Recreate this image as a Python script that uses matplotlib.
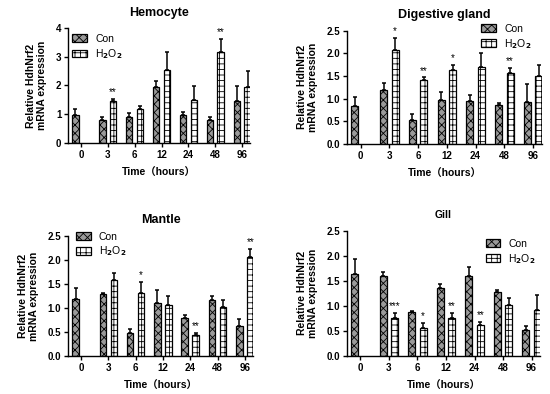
import matplotlib
matplotlib.use("Agg")
import matplotlib.pyplot as plt
import numpy as np

plt.rcParams["font.family"] = ["Liberation Sans", "Noto Sans CJK SC", "DejaVu Sans"]
plt.rcParams["font.weight"] = "bold"
plt.rcParams["hatch.linewidth"] = 0.6

TIMES = ["0", "3", "6", "12", "24", "48", "96"]

# Hemocyte
hem_con = [0.96, 0.78, 0.91, 1.95, 0.96, 0.80, 1.45]
hem_con_err = [0.21, 0.13, 0.14, 0.22, 0.11, 0.09, 0.53]
hem_h2o2 = [np.nan, 1.46, 1.18, 2.54, 1.49, 3.16, 1.95]
hem_h2o2_err = [0, 0.06, 0.10, 0.64, 0.49, 0.46, 0.56]
hem_sig = ["", "**", "", "", "", "**", ""]

# Digestive gland
dg_con = [0.84, 1.20, 0.52, 0.96, 0.95, 0.86, 0.93]
dg_con_err = [0.19, 0.15, 0.15, 0.18, 0.13, 0.04, 0.39]
dg_h2o2 = [np.nan, 2.07, 1.41, 1.64, 1.70, 1.56, 1.50]
dg_h2o2_err = [0, 0.28, 0.06, 0.11, 0.31, 0.11, 0.24]
dg_sig = ["", "*", "**", "*", "", "**", ""]

# Mantle
man_con = [1.18, 1.29, 0.47, 1.10, 0.78, 1.16, 0.63]
man_con_err = [0.24, 0.03, 0.09, 0.28, 0.07, 0.08, 0.13]
man_h2o2 = [np.nan, 1.58, 1.30, 1.06, 0.44, 1.01, 2.05]
man_h2o2_err = [0, 0.14, 0.24, 0.18, 0.04, 0.15, 0.18]
man_sig = ["", "", "*", "", "**", "", "**"]

# Gill
gill_con = [1.63, 1.60, 0.88, 1.35, 1.60, 1.28, 0.51]
gill_con_err = [0.30, 0.08, 0.02, 0.08, 0.17, 0.04, 0.09]
gill_h2o2 = [np.nan, 0.76, 0.55, 0.76, 0.61, 1.02, 0.92]
gill_h2o2_err = [0, 0.09, 0.11, 0.10, 0.06, 0.14, 0.29]
gill_sig = ["", "***", "*", "**", "**", "", ""]

PANELS = [
    ("Hemocyte", hem_con, hem_con_err, hem_h2o2, hem_h2o2_err, hem_sig,
     [0.124, 0.638, 0.331, 0.290], 4, 1, "upper left", (0.0, 0.99), 9),
    ("Digestive gland", dg_con, dg_con_err, dg_h2o2, dg_h2o2_err, dg_sig,
     [0.631, 0.635, 0.354, 0.287], 2.5, 0.5, "upper right", (0.97, 1.1), 9),
    ("Mantle", man_con, man_con_err, man_h2o2, man_h2o2_err, man_sig,
     [0.124, 0.0965, 0.336, 0.305], 2.5, 0.5, "upper left", (0.02, 1.07), 9),
    ("Gill", gill_con, gill_con_err, gill_h2o2, gill_h2o2_err, gill_sig,
     [0.631, 0.0965, 0.351, 0.318], 2.5, 0.5, "upper right", (1.0, 0.97), 7.5),
]

fig = plt.figure(figsize=(5.5, 3.94), dpi=100)
x = np.arange(len(TIMES))
w = 0.24
off = 0.2

for title, con, con_err, h2, h2_err, sig, pos, ymax, ystep, loc, anchor, tsize in PANELS:
    ax = fig.add_axes(pos)
    ax.bar(x - off, con, w, color="#9a9a9a", edgecolor="black", hatch="xxxx",
           linewidth=0.9, label="Con",
           yerr=[np.zeros(len(x)), con_err], capsize=1.5,
           error_kw=dict(elinewidth=1.1, capthick=1.1))
    ax.bar(x + off, h2, w, color="white", edgecolor="black", hatch="+++",
           linewidth=0.9, label="H$_2$O$_2$",
           yerr=[np.zeros(len(x)), h2_err], capsize=1.5,
           error_kw=dict(elinewidth=1.1, capthick=1.1))
    for i, s in enumerate(sig):
        if s:
            ax.text(x[i] + off, h2[i] + h2_err[i] + ymax * 0.015, s,
                    ha="center", va="bottom", fontsize=7, fontweight="normal")
    ax.set_xlim(-0.47, 6.3)
    ax.set_ylim(0, ymax)
    ticks = np.arange(0, ymax + 1e-9, ystep)
    ax.set_yticks(ticks)
    if ystep < 1:
        ax.set_yticklabels([f"{v:.1f}" for v in ticks])
    ax.set_xticks(x)
    ax.set_xticklabels(TIMES)
    ax.tick_params(labelsize=7, width=1.0, length=3, pad=2)
    for sp in ["top", "right"]:
        ax.spines[sp].set_visible(False)
    for sp in ["left", "bottom"]:
        ax.spines[sp].set_linewidth(1.0)
    ax.set_title(title, fontsize=tsize, fontweight="bold", pad=9)
    ax.set_xlabel("Time（hours）", fontsize=7.5, fontweight="bold", labelpad=6)
    ax.set_ylabel("Relative HdhNrf2\nmRNA expression", fontsize=7.5,
                  fontweight="bold", labelpad=6)
    leg = ax.legend(loc=loc, bbox_to_anchor=anchor, frameon=False, fontsize=7.5,
                    handlelength=1.4, handleheight=0.7, borderaxespad=0.0,
                    labelspacing=0.3)
    for t in leg.get_texts():
        t.set_fontweight("normal")

fig.savefig("out.png", dpi=100)
